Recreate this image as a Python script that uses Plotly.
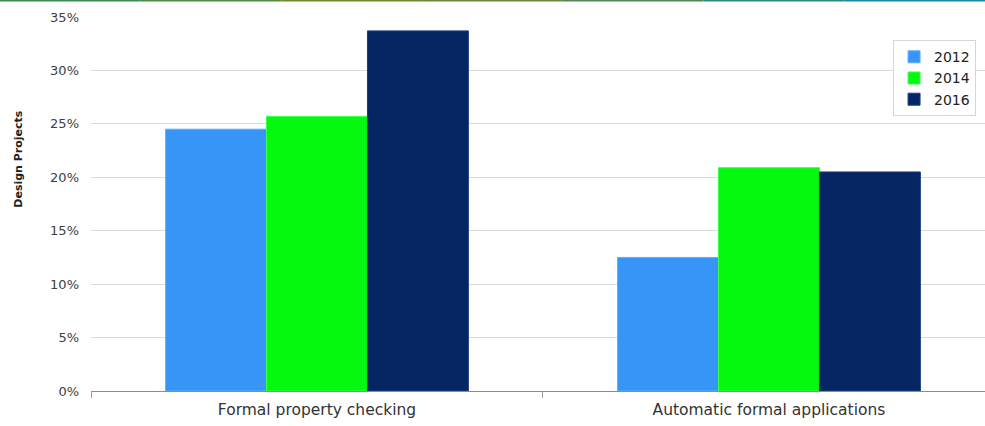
import plotly.graph_objects as go

categories = ["Formal property checking", "Automatic formal applications"]
years = ["2012", "2014", "2016"]
share_2012 = [24.5, 12.5]
share_2014 = [25.7, 20.9]
share_2016 = [33.7, 20.5]
tick_vals = [0, 5, 10, 15, 20, 25, 30, 35]
tick_text = ["0%", "5%", "10%", "15%", "20%", "25%", "30%", "35%"]

series = [share_2012, share_2014, share_2016]
fills = ["#3795f7", "#05f80f", "#062563"]
edges = ["#5ab0ff", "#3cff48", "#1b3d80"]

fig = go.Figure()
for name, vals, fc, ec in zip(years, series, fills, edges):
    fig.add_trace(go.Bar(
        x=categories, y=vals, name=name,
        marker=dict(color=fc, line=dict(color=ec, width=1)),
    ))

font_family = "DejaVu Sans, Verdana, sans-serif"

fig.update_layout(
    width=985, height=426,
    margin=dict(l=91, r=0, t=17, b=35),
    paper_bgcolor="white", plot_bgcolor="white",
    barmode="group", bargap=0.33, bargroupgap=0,
    font=dict(family=font_family, color="#404040"),
    xaxis=dict(
        range=[-0.5, 1.478],
        showline=True, linecolor="#8c8c8c", linewidth=1,
        ticks="outside", tickson="boundaries", ticklen=6, tickcolor="#9a9a9a",
        tickfont=dict(size=15.5, color="#333333"),
        ticklabelstandoff=4,
        showgrid=False,
    ),
    yaxis=dict(
        range=[0, 35], tickvals=tick_vals, ticktext=tick_text,
        showgrid=True, gridcolor="#d9d9d9", gridwidth=1,
        zeroline=False, showline=False,
        tickfont=dict(size=13, color="#404040"),
        ticklabelstandoff=11,
    ),
    legend=dict(
        x=0.99, y=0.938, xanchor="right", yanchor="top",
        bgcolor="white", bordercolor="#d6d6d6", borderwidth=1,
        font=dict(size=14, color="#222222"),
        itemwidth=30, tracegroupgap=0,
    ),
    showlegend=True,
    annotations=[dict(
        text="<b>Design Projects</b>", textangle=-90,
        xref="paper", yref="paper", x=-0.081, y=0.62,
        xanchor="center", yanchor="middle", showarrow=False,
        font=dict(size=11, color="#222222"),
    )],
)

# thin gradient rule along the top edge of the page
stops = ["#3b8c52", "#4f8a3e", "#6b8a2e", "#6a8a33", "#4f8a55", "#2d8a80", "#1585a8"]
n = len(stops)
top_shapes = []
for i, c in enumerate(stops):
    top_shapes.append(dict(type="line", xref="paper", yref="paper",
                           x0=-91 / 894 + i * (985 / 894) / n,
                           x1=-91 / 894 + (i + 1) * (985 / 894) / n,
                           y0=1 + 16.5 / 374, y1=1 + 16.5 / 374,
                           line=dict(color=c, width=2)))
fig.update_layout(shapes=top_shapes)

fig.write_html("out.html")
